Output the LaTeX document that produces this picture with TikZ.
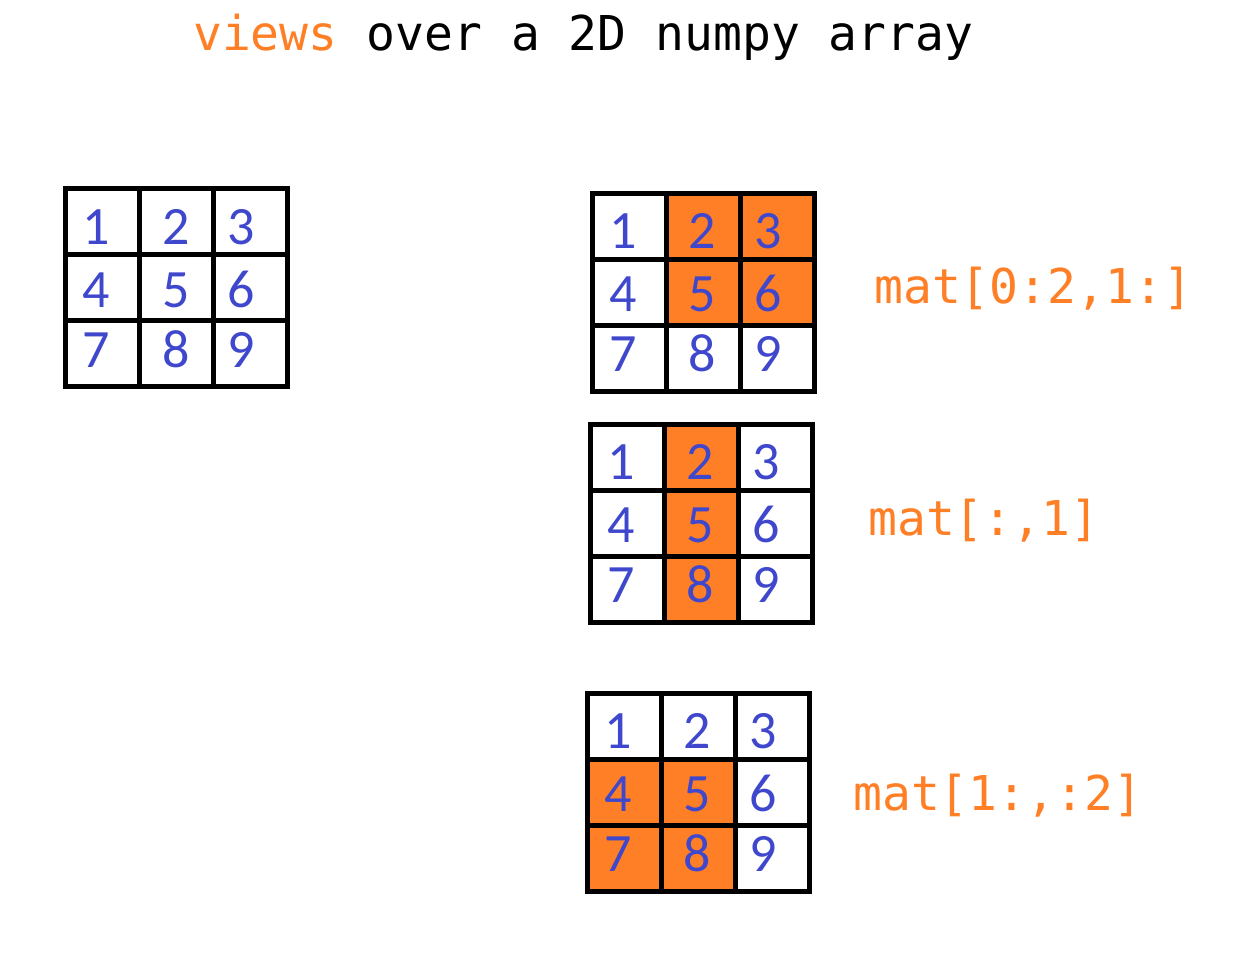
\documentclass[tikz,border=0pt]{standalone}
\usepackage{fontspec}
\newfontfamily\digitfont{Carlito}
\newfontfamily\codefont{DejaVu Sans Mono}
\definecolor{paintorange}{RGB}{255,127,39}
\definecolor{paintblue}{RGB}{63,72,204}
\tikzset{
  cellline/.style={line width=5pt, draw=black},
  hlcell/.style={fill=paintorange},
  digit/.style={font=\digitfont\fontsize{54}{54}\selectfont, text=paintblue, anchor=base, inner sep=0pt},
  slicelabel/.style={font=\codefont\fontsize{48}{48}\selectfont, text=paintorange, anchor=base west, inner sep=0pt},
  titletext/.style={font=\codefont\fontsize{48}{48}\selectfont, text=black, anchor=base west, inner sep=0pt},
}
% #1 name, #2 x, #3 y, #4 list of highlighted cells as col/row
\newcommand\drawnumgrid[4]{%
  \begin{scope}[shift={(#2,#3)}]
    \foreach \cc/\rr in {#4} {
      \fill[hlcell] (\cc*74,\rr*66) rectangle ({(\cc+1)*74},{(\rr+1)*66});
    }
    \draw[cellline] (0,0) rectangle (222,198);
    \draw[cellline] (74,0) -- (74,198) (148,0) -- (148,198)
                    (0,66) -- (222,66) (0,132) -- (222,132);
    \foreach \r/\yy in {0/55.5,1/118.5,2/178.5} {
      \foreach \c/\xx in {0/31,1/110.5,2/176} {
        \pgfmathtruncatemacro\n{3*\r+\c+1}
        \node[digit] (#1-\n) at (\xx,\yy) {\n};
      }
    }
  \end{scope}}
\begin{document}
\begin{tikzpicture}[x=1pt,y=-1pt]
  \useasboundingbox (0,0) rectangle (1258,956);
  \node[titletext] (title) at (193,50) {{\color{paintorange}views} over a 2D numpy array};
  % original array
  \drawnumgrid{orig}{65.5}{188.5}{}
  % mat[0:2,1:]
  \drawnumgrid{sliceA}{592}{193}{1/0,2/0,1/1,2/1}
  \node[slicelabel] (labelA) at (874,303) {mat[0:2,1:]};
  % mat[:,1]
  \drawnumgrid{sliceB}{590}{424}{1/0,1/1,1/2}
  \node[slicelabel] (labelB) at (868,535) {mat[:,1]};
  % mat[1:,:2]
  \drawnumgrid{sliceC}{587}{693}{0/1,1/1,0/2,1/2}
  \node[slicelabel] (labelC) at (853,810) {mat[1:,:2]};
\end{tikzpicture}
\end{document}
